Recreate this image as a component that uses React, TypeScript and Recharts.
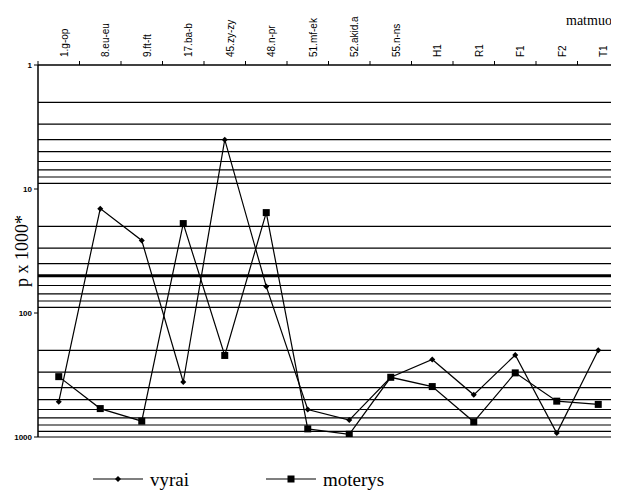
import React from 'react';
import {
    LineChart,
    Line,
    XAxis,
    YAxis,
    Legend,
    ReferenceLine,
} from 'recharts';

// categories across the top axis
const CATEGORIES = ['1.g-op', '8.eu-eu', '9.ft-ft', '17.ba-b', '45.zy-zy', '48.n-pr', '51.mf-ek',
    '52.akid.a', '55.n-ns', 'H1', 'R1', 'F1', 'F2', 'T1'];

// p x 1000 values
const VYRAI = [520, 14.4, 26, 360, 4.0, 61, 600, 730, 330, 237, 457, 218, 930, 200];
const MOTERYS = [326, 590, 745, 19, 220, 15.5, 860, 950, 330, 392, 754, 304, 514, 546];

const Y_TICKS = [1, 10, 100, 1000];
const GRID_VALUES = [2, 3, 4, 5, 6, 7, 8, 9, 20, 30, 40, 50, 60, 70, 80, 90,
    200, 300, 400, 500, 600, 700, 800, 900, 1000];
const THRESHOLD = 50;

const SERIES = [
    { key: 'vyrai', name: 'vyrai', values: VYRAI, marker: 'diamond' },
    { key: 'moterys', name: 'moterys', values: MOTERYS, marker: 'square' },
];

const data = CATEGORIES.map((c, i) => ({ cat: c, vyrai: VYRAI[i], moterys: MOTERYS[i] }));

const WIDTH = 619;
const HEIGHT = 493;
const Y_AXIS_W = 38;
const BAND = (WIDTH - Y_AXIS_W) / CATEGORIES.length;
const SERIF = '"Liberation Serif", "Times New Roman", serif';
const SANS = '"Liberation Sans", Arial, sans-serif';

const Marker = ({ type, cx, cy }: { type: string, cx: number, cy: number }) => {
    if (type === 'diamond') {
        return <polygon points={`${cx},${cy - 3} ${cx + 3},${cy} ${cx},${cy + 3} ${cx - 3},${cy}`} fill="#000" />;
    }
    return <rect x={cx - 3.5} y={cy - 3.5} width={7} height={7} fill="#000" />;
};

const TopTick = (props: any) => {
    const { x, y, payload, index } = props;
    const axisY = y + 8;
    const left = x - BAND / 2;
    return (
        <g>
            <line x1={left} x2={left} y1={axisY} y2={axisY - 4} stroke="#000" />
            {index === CATEGORIES.length - 1 &&
                <line x1={x + BAND / 2} x2={x + BAND / 2} y1={axisY} y2={axisY - 4} stroke="#000" />}
            <text x={x + 9} y={y} transform={`rotate(-90 ${x + 9} ${y})`} textAnchor="start"
                fontSize={10} fontFamily={SANS} fill="#000">{payload.value}</text>
        </g>
    );
};

const renderLegend = () => (
    <svg width={WIDTH} height={34}>
        {SERIES.map((s, i) => {
            const x0 = i === 0 ? 93 : 266;
            return (
                <g key={s.key}>
                    <line x1={x0} x2={x0 + 50} y1={17} y2={17} stroke="#000" strokeWidth={1.2} />
                    <Marker type={s.marker} cx={x0 + 25} cy={17} />
                    <text x={x0 + 57} y={24} fontSize={19} fontFamily={SERIF} fill="#000">{s.name}</text>
                </g>
            );
        })}
    </svg>
);

export default function App() {
    return (
        <div style={{ margin: '-8px 0 0 -8px', width: WIDTH, height: HEIGHT, background: '#fff', position: 'relative' }}>
            <LineChart width={WIDTH} height={HEIGHT} data={data}
                margin={{ top: 15, right: 0, left: 0, bottom: 56 }}>
                <XAxis dataKey="cat" orientation="top" height={50} interval={0}
                    padding={{ left: BAND / 2, right: BAND / 2 }}
                    axisLine={{ stroke: '#000', strokeWidth: 1.5 }} tickLine={false}
                    tickSize={4} tickMargin={4} tick={<TopTick />} />
                <YAxis type="number" scale="log" domain={[1, 1000]} reversed allowDataOverflow
                    ticks={Y_TICKS} width={Y_AXIS_W} interval={0}
                    axisLine={{ stroke: '#000', strokeWidth: 1.5 }}
                    tickLine={{ stroke: '#000' }} tickSize={4}
                    tick={{ fontSize: 8, fontWeight: 'bold', fontFamily: SANS, fill: '#000' }}
                    label={{
                        value: 'p x 1000*',
                        content: ({ viewBox, value }: any) => {
                            const cy = viewBox.y + viewBox.height / 2;
                            return (
                                <text x={28} y={cy} transform={`rotate(-90 28 ${cy})`} textAnchor="middle"
                                    fontSize={18} fontFamily={SERIF} fill="#000">{value}</text>
                            );
                        }
                    }} />
                {GRID_VALUES.map(v => (
                    <ReferenceLine key={v} y={v} stroke="#000" strokeWidth={v === THRESHOLD ? 3 : 1.2} ifOverflow="visible" />
                ))}
                {SERIES.map(s => (
                    <Line key={s.key} dataKey={s.key} name={s.name} type="linear" stroke="#000" strokeWidth={1.2}
                        isAnimationActive={false}
                        dot={(p: any) => <Marker key={`${s.key}-${p.index}`} type={s.marker} cx={p.cx} cy={p.cy} />} />
                ))}
                <Legend layout="horizontal" verticalAlign="middle" align="center" content={renderLegend}
                    wrapperStyle={{ top: 462, left: 0, width: WIDTH }} />
                <text x={566} y={25} fontSize={14} fontFamily={SERIF} fill="#000">matmuo</text>
            </LineChart>
        </div>
    );
}
